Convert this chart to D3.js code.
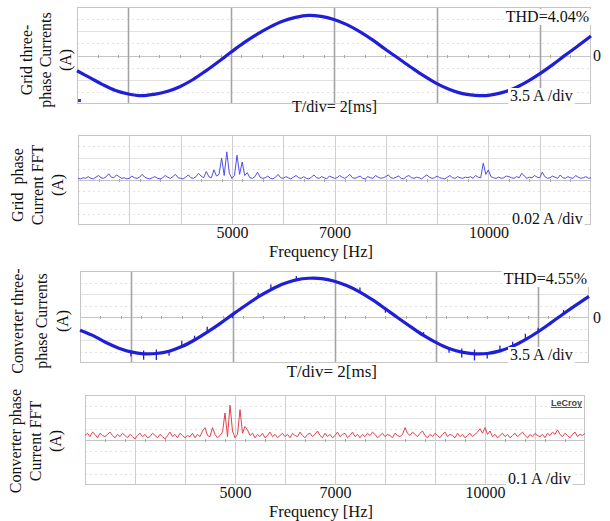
<!DOCTYPE html>
<html>
<head>
<meta charset="utf-8">
<script src="https://cdn.jsdelivr.net/npm/d3@7"></script>
<style>
  body { margin: 0; background: #fff; }
  svg text { font-family: "Liberation Serif", "Times New Roman", serif; fill: #111; }
</style>
</head>
<body>
<svg id="chart" width="610" height="521"></svg>
<script>
// ---- data ---------------------------------------------------------------
// Oscilloscope traces: one sample every 0.5 ms over 10 divisions of 2 ms.
const sampleStepMs = 0.5;
const gridCurrentA = [-4.4, -6.4, -8.4, -10.1, -11.1, -11.6, -11.2, -10.4, -9.0, -7.0,
  -4.5, -1.8, 1.0, 3.7, 6.1, 8.2, 9.9, 11.0, 11.6, 11.3,
  10.4, 8.9, 6.9, 4.5, 1.8, -0.8, -3.4, -5.9, -8.1, -9.8,
  -11.0, -11.5, -11.5, -10.8, -9.5, -7.6, -5.3, -2.7, 0.1, 2.8, 5.6];
const converterCurrentA = [-4.0, -5.6, -7.7, -9.4, -10.6, -11.2, -11.1, -10.4, -9.0, -7.0,
  -4.6, -2.0, 0.8, 3.5, 6.1, 8.3, 10.1, 11.3, 11.8, 11.7,
  10.9, 9.5, 7.6, 5.2, 2.5, -0.3, -3.0, -5.6, -7.8, -9.6,
  -10.7, -11.2, -11.1, -10.3, -8.9, -6.9, -4.5, -1.8, 1.0, 3.7, 6.3];
// switching spikes on the converter current: [sample index, excursion in A]
const converterSpikes = [[4, -1.4], [5, -1.8], [5, 1.0], [6, -2.0], [6, 1.2], [7, -1.4],
  [8, 1.8], [9, 1.3], [10, 1.6], [12, -1.2], [14, 1.3], [15, 1.6], [17, 1.2],
  [22, 1.4], [24, -1.2], [27, 1.0], [29, -1.3], [30, -1.6], [30, 1.1], [31, -2.0],
  [31, 1.3], [32, -1.5], [33, 1.6], [34, 1.4], [35, 1.8], [36, 1.2], [38, 1.1]];

// Spectra: one bin every 50 Hz from 2 kHz to 12 kHz.
const freqStepHz = 50;
const freqStartHz = 2000;
const gridFftA = [
  0.003, 0.002, 0.004, 0.003, 0.006, 0.003, 0.002, 0.005, 0.008, 0.004,
  0.003, 0.006, 0.011, 0.005, 0.004, 0.009, 0.006, 0.003, 0.004, 0.002,
  0.003, 0.007, 0.004, 0.003, 0.005, 0.010, 0.005, 0.003, 0.002, 0.004,
  0.006, 0.003, 0.002, 0.004, 0.008, 0.005, 0.003, 0.006, 0.010, 0.004,
  0.003, 0.002, 0.005, 0.009, 0.004, 0.003, 0.006, 0.012, 0.007, 0.004,
  0.015, 0.006, 0.004, 0.018, 0.007, 0.010, 0.039, 0.008, 0.050, 0.012,
  0.003, 0.008, 0.044, 0.010, 0.032, 0.008, 0.013, 0.004, 0.003, 0.006,
  0.014, 0.005, 0.003, 0.004, 0.007, 0.003, 0.002, 0.005, 0.010, 0.004,
  0.003, 0.006, 0.004, 0.002, 0.005, 0.008, 0.004, 0.003, 0.006, 0.003,
  0.002, 0.005, 0.009, 0.004, 0.003, 0.006, 0.004, 0.002, 0.007, 0.005,
  0.003, 0.004, 0.008, 0.005, 0.003, 0.006, 0.010, 0.004, 0.003, 0.005,
  0.007, 0.003, 0.002, 0.006, 0.004, 0.003, 0.008, 0.005, 0.003, 0.004,
  0.006, 0.009, 0.004, 0.003, 0.005, 0.007, 0.003, 0.002, 0.006, 0.008,
  0.004, 0.003, 0.005, 0.004, 0.002, 0.006, 0.009, 0.005, 0.003, 0.004,
  0.007, 0.004, 0.003, 0.002, 0.005, 0.008, 0.004, 0.003, 0.006, 0.004,
  0.003, 0.005, 0.004, 0.006, 0.003, 0.008, 0.005, 0.004, 0.030, 0.010,
  0.018, 0.006, 0.004, 0.003, 0.005, 0.003, 0.004, 0.007, 0.006, 0.004,
  0.003, 0.006, 0.004, 0.012, 0.007, 0.003, 0.005, 0.004, 0.008, 0.005,
  0.004, 0.014, 0.006, 0.003, 0.004, 0.007, 0.005, 0.003, 0.009, 0.004,
  0.003, 0.006, 0.004, 0.003, 0.008, 0.005, 0.003, 0.004, 0.006, 0.003, 0.004];
const converterFftA = [
  0.04, 0.06, 0.03, 0.07, 0.05, 0.02, 0.06, 0.04, 0.03, 0.05,
  0.07, 0.04, 0.02, 0.05, 0.03, 0.06, 0.04, 0.02, 0.05, 0.03,
  0.01, 0.04, 0.06, 0.03, 0.05, 0.02, 0.03, 0.06, 0.04, 0.02,
  0.05, 0.03, 0.01, 0.04, 0.07, 0.03, 0.05, 0.02, 0.06, 0.04,
  0.02, 0.04, 0.03, 0.06, 0.02, 0.05, 0.03, 0.08, 0.11, 0.04,
  0.03, 0.11, 0.05, 0.02, 0.04, 0.07, 0.24, 0.03, 0.31, 0.08,
  0.02, 0.05, 0.27, 0.06, 0.12, 0.09, 0.04, 0.06, 0.02, 0.05,
  0.03, 0.06, 0.02, 0.04, 0.07, 0.03, 0.05, 0.02, 0.04, 0.06,
  0.03, 0.05, 0.02, 0.06, 0.04, 0.03, 0.07, 0.04, 0.02, 0.05,
  0.06, 0.03, 0.05, 0.08, 0.04, 0.02, 0.06, 0.03, 0.05, 0.02,
  0.04, 0.07, 0.03, 0.05, 0.06, 0.02, 0.04, 0.07, 0.03, 0.05,
  0.02, 0.05, 0.03, 0.06, 0.04, 0.07, 0.05, 0.02, 0.04, 0.06,
  0.03, 0.05, 0.04, 0.02, 0.06, 0.04, 0.03, 0.05, 0.11, 0.06,
  0.04, 0.07, 0.05, 0.03, 0.06, 0.08, 0.04, 0.02, 0.05, 0.03,
  0.06, 0.04, 0.02, 0.05, 0.07, 0.03, 0.05, 0.04, 0.02, 0.06,
  0.03, 0.05, 0.02, 0.04, 0.06, 0.03, 0.05, 0.07, 0.10, 0.06,
  0.11, 0.05, 0.08, 0.03, 0.05, 0.02, 0.04, 0.06, 0.03, 0.05,
  0.02, 0.04, 0.06, 0.03, 0.05, 0.07, 0.04, 0.02, 0.05, 0.03,
  0.06, 0.04, 0.03, 0.05, 0.02, 0.06, 0.04, 0.07, 0.05, 0.09,
  0.05, 0.03, 0.06, 0.04, 0.02, 0.05, 0.07, 0.03, 0.05, 0.04, 0.06];

const freqTicksHz = [5000, 7000, 10000];
const thdLabels = ["THD=4.04%", "THD=4.55%"];
const scopeScaleLabels = ["3.5 A /div", "3.5 A /div"];
const fftScaleLabels = ["0.02 A /div", "0.1 A /div"];
const timebaseLabel = "T/div= 2[ms]";
const freqAxisTitle = "Frequency [Hz]";
const scopeTitles = [["Grid three-", "phase Currents", "(A)"], ["Converter three-", "phase Currents", "(A)"]];
const fftTitles = [["Grid  phase", "Current FFT", "(A)"], ["Converter phase", "Current FFT", "(A)"]];

// ---- drawing -------------------------------------------------------------
const svg = d3.select("#chart");
const sampleTimes = gridCurrentA.map((_, i) => i * sampleStepMs);
const binFreqs = gridFftA.map((_, i) => freqStartHz + i * freqStepHz);

function labelBox(g, x, y, text, size, anchor) {
  const t = g.append("text").attr("x", x).attr("y", y).attr("font-size", size)
    .attr("text-anchor", anchor || "start").text(text);
  const b = t.node().getBBox();
  g.insert("rect", () => t.node()).attr("x", b.x - 2).attr("y", b.y + 1)
    .attr("width", b.width + 4).attr("height", b.height - 1).attr("fill", "#fff");
  return t;
}

function sideTitle(lines, xs, cy) {
  lines.forEach((s, i) => {
    svg.append("text").attr("transform", `translate(${xs[i]},${cy}) rotate(-90)`)
      .attr("text-anchor", "middle").attr("dy", "0.35em").attr("font-size", 16)
      .style("white-space", "pre").text(s);
  });
}

function frame(g, x, y, lineCfg) {
  const [x0, x1] = x.range(), [y0, y1] = y.range();
  g.append("rect").attr("x", x0).attr("y", y1).attr("width", x1 - x0).attr("height", y0 - y1)
    .attr("fill", "#fff");
  // horizontal divisions
  const yd = y.domain(), step = (yd[1] - yd[0]) / 8;
  d3.range(1, 8).forEach(k => {
    const yy = Math.round(y(yd[0] + k * step)) + 0.5;
    g.append("line").attr("x1", x0).attr("x2", x1).attr("y1", yy).attr("y2", yy)
      .attr("stroke", k === 4 ? "#c4c4c4" : "#e2e2e2").attr("stroke-width", 1)
      .attr("stroke-dasharray", k === 4 ? null : (k % 2 ? "2,3" : null));
  });
  // centre-line sub-division marks
  const yc = Math.round(y(yd[0] + 4 * step)) + 0.5;
  const xd = x.domain(), xstep = (xd[1] - xd[0]) / 25;
  d3.range(1, 25).forEach(k => {
    const xx = Math.round(x(xd[0] + k * xstep)) + 0.5;
    g.append("line").attr("x1", xx).attr("x2", xx).attr("y1", yc - 1.5).attr("y2", yc + 1.5)
      .attr("stroke", "#aaa").attr("stroke-width", 1);
  });
  // vertical divisions
  const vstep = (xd[1] - xd[0]) / 10;
  d3.range(1, 10).forEach(k => {
    if (lineCfg.oddOnly && k % 2 === 0) return;
    const xx = Math.round(x(xd[0] + k * vstep)) + 0.5;
    g.append("line").attr("x1", xx).attr("x2", xx).attr("y1", y1).attr("y2", y0)
      .attr("stroke", lineCfg.color).attr("stroke-width", lineCfg.width);
  });
  g.append("rect").attr("x", x0 + 0.5).attr("y", y1 + 0.5).attr("width", x1 - x0 - 1)
    .attr("height", y0 - y1 - 1).attr("fill", "none").attr("stroke", "#c6c6c6");
}

function scopePanel(cfg) {
  const g = svg.append("g");
  const x = d3.scaleLinear().domain([0, 20]).range([cfg.left, cfg.right]);
  const y = d3.scaleLinear().domain([-14, 14]).range([cfg.bottom, cfg.top]);
  frame(g, x, y, { oddOnly: true, color: "#a4a4a4", width: 1.6 });
  const line = d3.line().x((d, i) => x(sampleTimes[i])).y(d => y(d)).curve(d3.curveCatmullRom);
  g.append("path").datum(cfg.values).attr("d", line).attr("fill", "none")
    .attr("stroke", "#1f1fd6").attr("stroke-width", 3.2).attr("stroke-linejoin", "round");
  (cfg.spikes || []).forEach(([i, d]) => {
    g.append("line").attr("x1", x(sampleTimes[i])).attr("x2", x(sampleTimes[i]))
      .attr("y1", y(cfg.values[i])).attr("y2", y(cfg.values[i] + d))
      .attr("stroke", "#1f1fd6").attr("stroke-width", 1.3);
  });
  if (cfg.marker) {
    g.append("rect").attr("x", cfg.left + 1).attr("y", y(-13) - 1.5).attr("width", 3).attr("height", 3)
      .attr("fill", "#3b3bd8");
  }
  labelBox(g, cfg.right - 2, cfg.thdY, cfg.thd, 16, "end");
  labelBox(g, cfg.divX, cfg.bottom - 3, cfg.div, 16, "start");
  svg.append("text").attr("x", cfg.tbX).attr("y", cfg.tbY).attr("font-size", cfg.tbSize)
    .attr("text-anchor", "end").text(timebaseLabel);
  svg.append("text").attr("x", 597).attr("y", y(0)).attr("dy", "0.35em").attr("font-size", 16)
    .attr("text-anchor", "middle").text("0");
}

function fftPanel(cfg) {
  const g = svg.append("g");
  const x = d3.scaleLinear().domain([freqStartHz, 12000]).range([cfg.left, cfg.right]);
  const y = d3.scaleLinear().domain([-4 * cfg.perDiv, 4 * cfg.perDiv]).range([cfg.bottom, cfg.top]);
  frame(g, x, y, { oddOnly: false, color: "#cfcfcf", width: 1 });
  const line = d3.line().x((d, i) => x(binFreqs[i])).y(d => y(d));
  g.append("path").datum(cfg.values).attr("d", line).attr("fill", "none")
    .attr("stroke", cfg.color).attr("stroke-width", 1).attr("stroke-linejoin", "round");
  if (cfg.brand) {
    g.append("text").attr("x", cfg.right - 3).attr("y", cfg.top + 11).attr("text-anchor", "end")
      .attr("font-size", 9).attr("font-weight", "bold").style("font-family", "Liberation Sans, Arial, sans-serif")
      .style("fill", "#444").attr("text-decoration", "underline").text(cfg.brand);
  }
  labelBox(g, cfg.divX, cfg.bottom - 1, cfg.div, 16, "start");
  const axis = d3.axisBottom(x).tickValues(freqTicksHz).tickSize(0).tickFormat(d3.format("d"));
  const ag = svg.append("g").attr("transform", `translate(0,${cfg.bottom})`).call(axis);
  ag.select(".domain").remove();
  ag.selectAll("text").attr("font-size", 16).attr("dy", null).attr("y", cfg.tickY - cfg.bottom)
    .style("font-family", "Liberation Serif, Times New Roman, serif").style("fill", "#111");
  svg.append("text").attr("x", 321).attr("y", cfg.titleY).attr("text-anchor", "middle")
    .attr("font-size", 16.5).text(freqAxisTitle);
}

scopePanel({ left: 77, right: 591, top: 7, bottom: 104, values: gridCurrentA, marker: true,
  thd: thdLabels[0], thdY: 22, div: scopeScaleLabels[0], divX: 510,
  tbX: 377, tbY: 112, tbSize: 16 });
fftPanel({ left: 78, right: 591, top: 135, bottom: 225, perDiv: 0.02, values: gridFftA,
  color: "#4f4fe2", div: fftScaleLabels[0], divX: 512, tickY: 238, titleY: 256.5 });
scopePanel({ left: 80, right: 589, top: 271, bottom: 363, values: converterCurrentA,
  spikes: converterSpikes, thd: thdLabels[1], thdY: 284, div: scopeScaleLabels[1], divX: 510,
  tbX: 377, tbY: 377, tbSize: 17 });
fftPanel({ left: 85, right: 585, top: 395, bottom: 485, perDiv: 0.1, values: converterFftA,
  color: "#e2414c", div: fftScaleLabels[1], divX: 508, tickY: 498, titleY: 516.5, brand: "LeCroy" });

sideTitle(scopeTitles[0], [26, 45, 65], 60);
sideTitle(fftTitles[0], [17, 37, 57], 185);
sideTitle(scopeTitles[1], [17, 41, 62], 321);
sideTitle(fftTitles[1], [15, 35, 55], 441);
</script>
</body>
</html>
